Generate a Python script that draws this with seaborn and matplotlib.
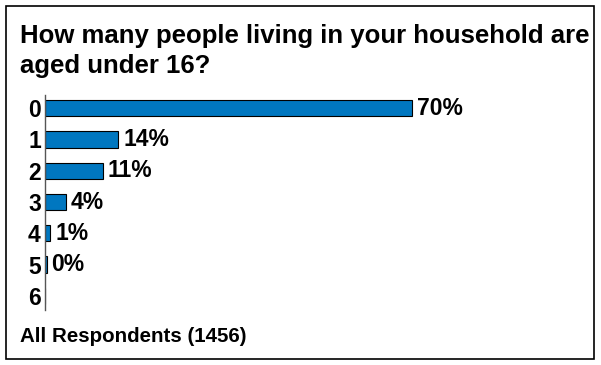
import matplotlib
matplotlib.use("Agg")
import matplotlib.pyplot as plt
import seaborn as sns
import pandas as pd
from matplotlib.patches import Rectangle

categories = ["0", "1", "2", "3", "4", "5", "6"]
values = [70, 14, 11, 4, 1, 0.3, 0]
labels = ["70%", "14%", "11%", "4%", "1%", "0%", ""]

sns.set_style("white")
plt.rcParams['font.family'] = ['Liberation Sans', 'DejaVu Sans']
plt.rcParams['text.color'] = 'black'
plt.rcParams['ytick.color'] = 'black'

df = pd.DataFrame({"cat": categories, "val": values})

fig = plt.figure(figsize=(6.01, 3.65), dpi=100)
ax = fig.add_axes([0.0749, 0.1507, 0.872, 0.589])
sns.barplot(data=df, y="cat", x="val", orient="h", color="#0077C0",
            edgecolor="black", linewidth=0.8, width=0.52, ax=ax, saturation=1)

for i, (v, lab) in enumerate(zip(values, labels)):
    ax.annotate(lab, (v, i), xytext=(3.5, 0), textcoords="offset points",
                va="center", ha="left", fontsize=16.5, fontweight="bold", color="black")

ax.set_xlim(0, 100)
ax.set_ylim(6.45, -0.42)
ax.set_xlabel("")
ax.set_ylabel("")
ax.set_xticks([])
for s in ["top", "right", "bottom"]:
    ax.spines[s].set_visible(False)
ax.spines["left"].set_color("#555555")
ax.spines["left"].set_linewidth(1.0)
ax.tick_params(axis="y", length=0, pad=3)
for t in ax.get_yticklabels():
    t.set_fontsize(16.5)
    t.set_fontweight("bold")
    t.set_color("black")

fig.text(20/601, 1-36/365, "How many people living in your household are",
         fontsize=18.5, fontweight="bold", va="center", ha="left")
fig.text(20/601, 1-66/365, "aged under 16?",
         fontsize=18.5, fontweight="bold", va="center", ha="left")
fig.text(20/601, 1-336/365, "All Respondents (1456)",
         fontsize=14.8, fontweight="bold", va="center", ha="left")

fig.patches.append(Rectangle((6/601, 6/365), 588/601, 353/365, transform=fig.transFigure,
                             fill=False, edgecolor="black", linewidth=1.2))

fig.savefig("out.png", dpi=100)
